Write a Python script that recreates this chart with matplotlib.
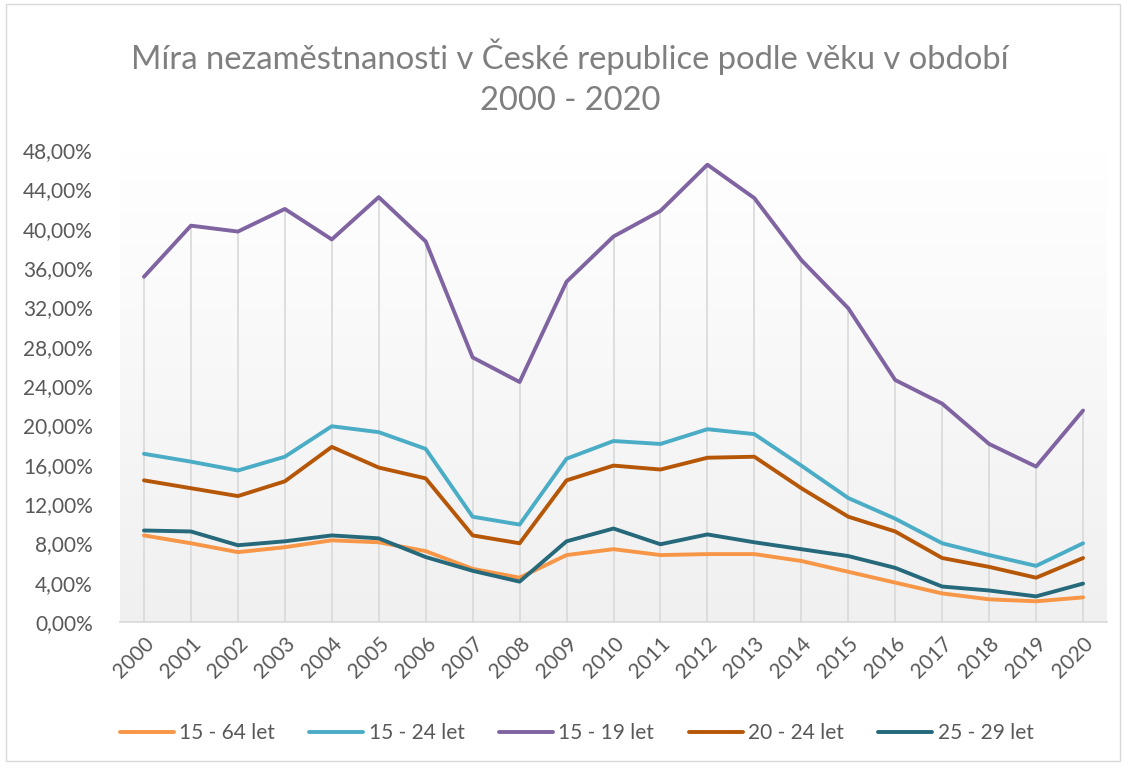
import matplotlib
matplotlib.use("Agg")
import matplotlib.pyplot as plt
import numpy as np
from matplotlib.patches import Rectangle
from matplotlib.ticker import FuncFormatter
from matplotlib.colors import LinearSegmentedColormap

years = [str(y) for y in range(2000, 2021)]
s_15_64 = [8.8, 8.0, 7.1, 7.6, 8.3, 8.1, 7.2, 5.4, 4.5, 6.8, 7.4, 6.8, 6.9, 6.9, 6.2, 5.1, 4.0, 2.9, 2.3, 2.1, 2.5]
s_15_24 = [17.1, 16.3, 15.4, 16.8, 19.9, 19.3, 17.6, 10.7, 9.9, 16.6, 18.4, 18.1, 19.6, 19.1, 15.9, 12.6, 10.5, 8.0, 6.8, 5.7, 8.0]
s_15_19 = [35.1, 40.3, 39.7, 42.0, 38.9, 43.2, 38.7, 26.9, 24.4, 34.6, 39.2, 41.8, 46.5, 43.1, 36.8, 31.9, 24.6, 22.2, 18.1, 15.8, 21.5]
s_20_24 = [14.4, 13.6, 12.8, 14.3, 17.8, 15.7, 14.6, 8.8, 8.0, 14.4, 15.9, 15.5, 16.7, 16.8, 13.6, 10.7, 9.2, 6.5, 5.6, 4.5, 6.5]
s_25_29 = [9.3, 9.2, 7.8, 8.2, 8.8, 8.5, 6.6, 5.2, 4.1, 8.2, 9.5, 7.9, 8.9, 8.1, 7.4, 6.7, 5.5, 3.6, 3.2, 2.6, 3.9]

labels = ["15 - 64 let", "15 - 24 let", "15 - 19 let", "20 - 24 let", "25 - 29 let"]
colors = ["#F79646", "#4BACC6", "#8064A2", "#B65708", "#25697A"]
series = [s_15_64, s_15_24, s_15_19, s_20_24, s_25_29]

plt.rcParams['font.family'] = ['Lato', 'DejaVu Sans']
txt = "#595959"

fig = plt.figure(figsize=(11.26, 7.65), dpi=100)
fig.patches.append(Rectangle((0.005, 0.005), 0.99, 0.99, transform=fig.transFigure,
                             fill=False, edgecolor="#D9D9D9", lw=1))

ax = fig.add_axes([0.107, 0.187, 0.8757, 0.617])
x = np.arange(len(years))

# gradient background
grad = np.linspace(0, 1, 256).reshape(-1, 1)
cmap = LinearSegmentedColormap.from_list("g", ["#F0F0F0", "#FFFFFF"])
ax.imshow(grad, aspect='auto', cmap=cmap, origin='lower',
          extent=[-0.5, len(years) - 0.5, 0, 48], zorder=0)

# drop lines
mx = np.max(np.array(series), axis=0)
ax.vlines(x, 0, mx, colors="#D9D9D9", lw=1.2, zorder=1)

for s, c, l in zip(series, colors, labels):
    ax.plot(x, s, color=c, lw=2.8, label=l, zorder=3, solid_capstyle='round')

ax.set_xlim(-0.5, len(years) - 0.5)
ax.set_ylim(0, 48)
ax.set_yticks(np.arange(0, 49, 4))
ax.yaxis.set_major_formatter(FuncFormatter(lambda v, p: f"{v:.2f}".replace('.', ',') + "%"))
ax.set_xticks(x)
ax.set_xticklabels(years, rotation=45, ha='right', rotation_mode='anchor')
ax.tick_params(axis='both', length=0, labelsize=15, colors=txt)
ax.tick_params(axis='y', pad=20)
ax.tick_params(axis='x', pad=8)
for sp in ['top', 'right', 'left']:
    ax.spines[sp].set_visible(False)
ax.spines['bottom'].set_color("#D9D9D9")
ax.spines['bottom'].set_linewidth(1.2)

fig.text(0.506, 0.899, "Míra nezaměstnanosti v České republice podle věku v období\n2000 - 2020",
         ha='center', va='center', fontsize=23.6, color="#7F7F7F", linespacing=1.42)

leg = fig.legend(loc='center', bbox_to_anchor=(0.512, 0.042), ncol=5, frameon=False,
                 fontsize=15, handlelength=2.6, handletextpad=0.25, columnspacing=1.65)
for t in leg.get_texts():
    t.set_color(txt)

fig.savefig("out.png", dpi=100)
